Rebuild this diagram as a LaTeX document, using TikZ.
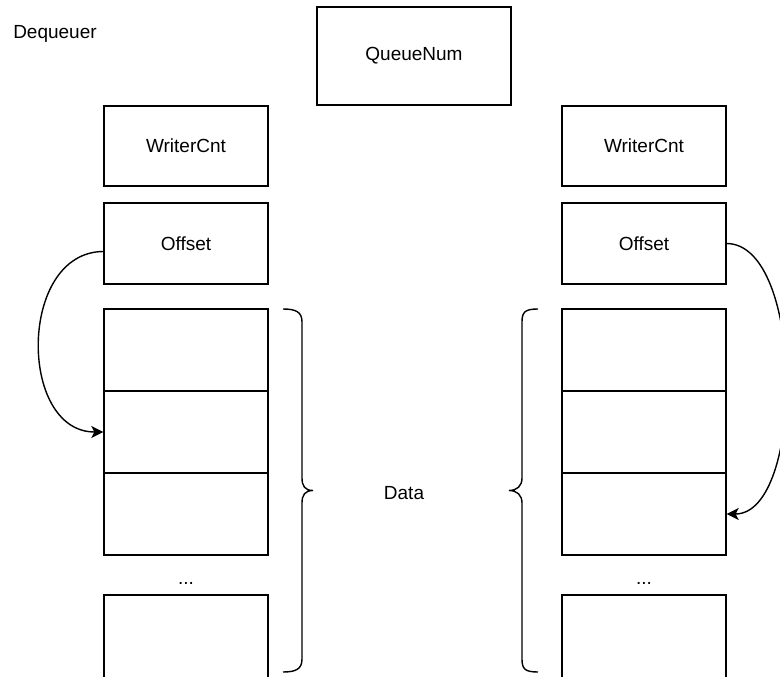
\documentclass[tikz,border=0pt]{standalone}
\usepackage{fontspec}
\setmainfont{Liberation Sans}
\usetikzlibrary{arrows.meta}
\begin{document}
\begin{tikzpicture}[x=1pt,y=-1pt]
\tikzset{every node/.style={font=\fontsize{19}{22}\selectfont,inner sep=0},
  cell/.style={draw=black,line width=1.4pt,minimum width=164pt,minimum height=82pt},
  flow/.style={line width=1.4pt,-{Stealth[length=12pt,width=12pt,inset=3pt]}}}
    \useasboundingbox (0,0) rectangle (780,677);
    \node (deq) at (55,34) {Dequeuer};
    \node[cell,minimum width=194pt,minimum height=98pt] (qnum) at (414,56) {QueueNum};

    % left side
    \node[cell,minimum height=80pt] (wcL) at (186,146) {WriterCnt};
    \node[cell,minimum height=81pt] (offL) at (186,243.5) {Offset};
    \node[cell] (dl1) at (186,350) {};
    \node[cell] (dl2) at (186,432) {};
    \node[cell] (dl3) at (186,514) {};
    \node (dotsL) at (186,583) {...};
    \node[cell,minimum height=100pt] (dl4) at (186,645) {};

    % right side
    \node[cell,minimum height=80pt] (wcR) at (644,146) {WriterCnt};
    \node[cell,minimum height=81pt] (offR) at (644,243.5) {Offset};
    \node[cell] (dr1) at (644,350) {};
    \node[cell] (dr2) at (644,432) {};
    \node[cell] (dr3) at (644,514) {};
    \node (dotsR) at (644,583) {...};
    \node[cell,minimum height=100pt] (dr4) at (644,645) {};

    \node (data) at (404,493) {Data};

    % braces
    \draw[line width=1.4pt] (283,309) .. controls (296,309) and (302,312) .. (302,322) -- (302,478)
        .. controls (302,486) and (305,490.5) .. (313,490.5) .. controls (305,490.5) and (302,495) .. (302,503)
        -- (302,659) .. controls (302,669) and (296,672) .. (283,672);
    \draw[line width=1.4pt] (538,309) .. controls (525,309) and (522,312) .. (522,322) -- (522,478)
        .. controls (522,486) and (517,490.5) .. (509,490.5) .. controls (517,490.5) and (522,495) .. (522,503)
        -- (522,659) .. controls (522,669) and (525,672) .. (538,672);

    \draw[flow] ([yshift=-8pt]offL.west) .. controls (18,252) and (18,432) .. (dl2.west);
    \draw[flow] (offR.east) .. controls (805,244) and (805,514) .. (dr3.east);
\end{tikzpicture}
\end{document}
